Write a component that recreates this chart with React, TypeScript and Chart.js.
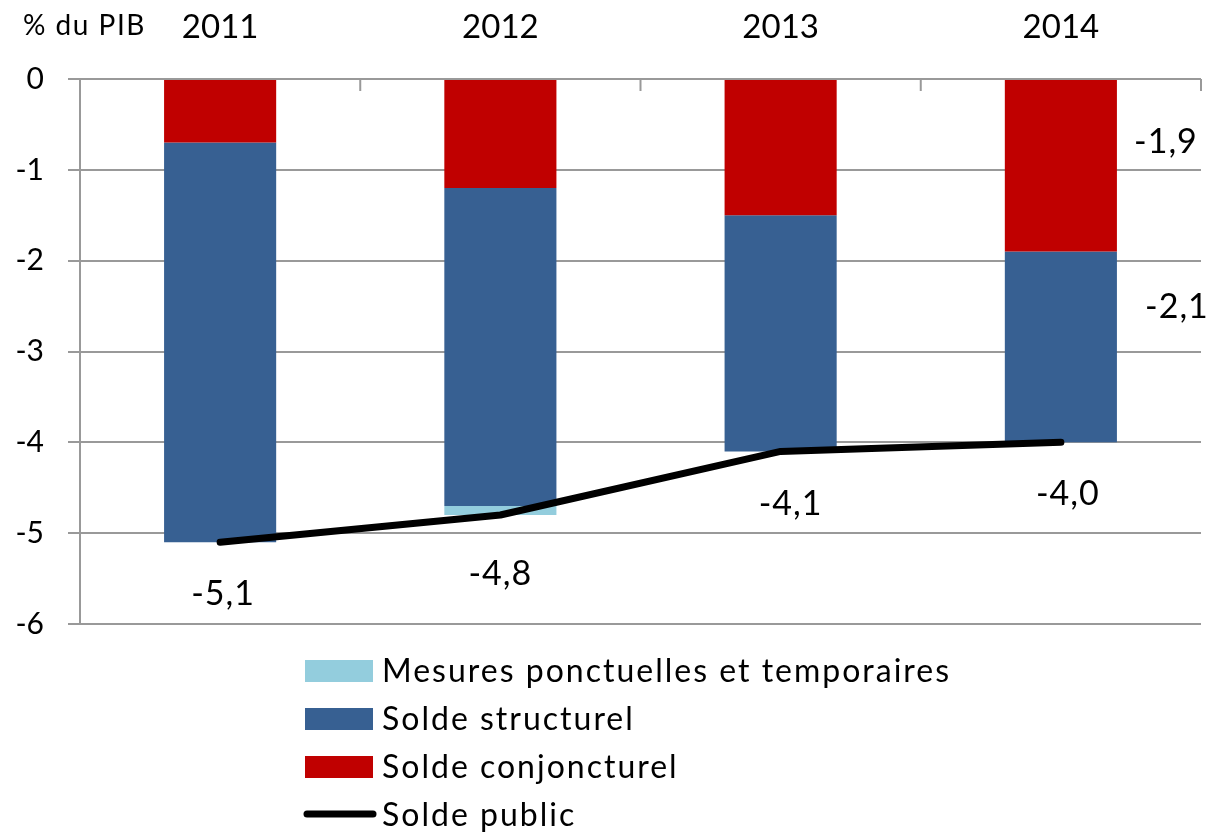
import React, { useEffect, useRef } from "react";
import { Chart, registerables } from "chart.js";

Chart.register(...registerables);

const categories = ["2011", "2012", "2013", "2014"];
const soldeConjoncturel = [-0.7, -1.2, -1.5, -1.9];
const soldeStructurel = [-4.4, -3.5, -2.6, -2.1];
const mesuresPonctuelles = [0, -0.1, 0, 0];
const soldePublic = [-5.1, -4.8, -4.1, -4.0];
const yTickLabels = ["0", "-1", "-2", "-3", "-4", "-5", "-6"];
const yUnitLabel = "% du PIB";
const seriesNames = [
  "Mesures ponctuelles et temporaires",
  "Solde structurel",
  "Solde conjoncturel",
  "Solde public",
];

const FONT = "Lato";
const C_PONCT = "#93CDDD";
const C_STRUCT = "#376092";
const C_CONJ = "#C00000";
const GRID = "#999999";

const fmt = (v: number) => v.toFixed(1).replace(".", ",");

const overlayPlugin = {
  id: "overlay",
  afterDatasetsDraw(chart: any) {
    const { ctx, chartArea, scales } = chart;
    const x = scales.x;
    const y = scales.y;
    ctx.save();
    // category boundary tick marks at the top, pointing inward
    ctx.strokeStyle = GRID;
    ctx.lineWidth = 2;
    const n = categories.length;
    for (let i = 1; i <= n; i++) {
      let px: number;
      if (i === n) px = chartArea.right;
      else px = (x.getPixelForValue(i - 1) + x.getPixelForValue(i)) / 2;
      ctx.beginPath();
      ctx.moveTo(px, chartArea.top);
      ctx.lineTo(px, chartArea.top + 12);
      ctx.stroke();
    }
    // unit label
    ctx.fillStyle = "#000";
    ctx.font = `28px ${FONT}`;
    (ctx as any).letterSpacing = "1.5px";
    ctx.textAlign = "left";
    ctx.textBaseline = "alphabetic";
    ctx.fillText(yUnitLabel, 23, 35);
    (ctx as any).letterSpacing = "0px";

    // data labels for solde public
    ctx.font = `34px ${FONT}`;
    (ctx as any).letterSpacing = "1px";
    ctx.textAlign = "center";
    const offs = [
      [3, 63],
      [0, 70],
      [10, 64],
      [7, 63],
    ];
    soldePublic.forEach((v, i) => {
      const px = x.getPixelForValue(i) + offs[i][0];
      const py = y.getPixelForValue(v) + offs[i][1];
      ctx.fillText(fmt(v), px, py);
    });
    // labels for last year components
    const last = n - 1;
    const barMeta = chart.getDatasetMeta(0);
    const bar = barMeta.data[last];
    const barRight = bar.x + bar.width / 2;
    const conj = soldeConjoncturel[last];
    const struct = soldeStructurel[last];
    ctx.fillText(fmt(conj), barRight + 49, y.getPixelForValue(conj / 2) - 12);
    ctx.fillText(
      fmt(struct),
      barRight + 60,
      y.getPixelForValue(conj + struct / 2) - 29
    );
    (ctx as any).letterSpacing = "0px";

    // legend
    const lx = chartArea.left + 225;
    const ly = chartArea.bottom + 36;
    const rowH = 48;
    const colors = [C_PONCT, C_STRUCT, C_CONJ];
    ctx.textAlign = "left";
    ctx.textBaseline = "alphabetic";
    for (let i = 0; i < 4; i++) {
      const top = ly + i * rowH;
      if (i < 3) {
        ctx.fillStyle = colors[i];
        ctx.fillRect(lx, top, 68, 22);
      } else {
        ctx.strokeStyle = "#000";
        ctx.lineWidth = 7;
        ctx.lineCap = "round";
        ctx.beginPath();
        ctx.moveTo(lx + 2, top + 10);
        ctx.lineTo(lx + 68, top + 10);
        ctx.stroke();
      }
      ctx.fillStyle = "#000";
      ctx.font = `32px ${FONT}`;
      (ctx as any).letterSpacing = "2px";
      ctx.fillText(seriesNames[i], lx + 77, top + 22);
      (ctx as any).letterSpacing = "0px";
    }
    ctx.restore();
  },
};

export default function App() {
  const ref = useRef<HTMLCanvasElement | null>(null);
  useEffect(() => {
    if (!ref.current) return;
    Chart.defaults.font.family = FONT;
    const chart = new Chart(ref.current, {
      type: "bar",
      data: {
        labels: categories,
        datasets: [
          {
            type: "bar",
            label: seriesNames[2],
            data: soldeConjoncturel,
            backgroundColor: C_CONJ,
            stack: "bars",
            order: 1,
          },
          {
            type: "bar",
            label: seriesNames[1],
            data: soldeStructurel,
            backgroundColor: C_STRUCT,
            stack: "bars",
            order: 1,
          },
          {
            type: "bar",
            label: seriesNames[0],
            data: mesuresPonctuelles,
            backgroundColor: C_PONCT,
            stack: "bars",
            order: 1,
          },
          {
            type: "line",
            label: seriesNames[3],
            data: soldePublic,
            borderColor: "#000",
            borderWidth: 7,
            borderCapStyle: "round",
            borderJoinStyle: "round",
            pointRadius: 0,
            tension: 0,
            stack: "line",
            order: 0,
          } as any,
        ],
      },
      options: {
        responsive: true,
        maintainAspectRatio: false,
        animation: false,
        layout: { padding: { right: 10, bottom: 208, top: 0, left: 0 } },
        datasets: {
          bar: { barPercentage: 0.4, categoryPercentage: 1 },
        },
        plugins: {
          legend: { display: false },
          tooltip: { enabled: false },
        },
        scales: {
          x: {
            position: "top",
            stacked: true,
            offset: true,
            grid: { display: false, drawTicks: false },
            border: { display: false },
            ticks: {
              color: "#000",
              font: { size: 33, family: FONT },
              padding: 32,
            },
            afterFit: (s: any) => {
              s.height = 79;
            },
          },
          y: {
            stacked: true,
            min: -6,
            max: 0,
            ticks: {
              stepSize: 1,
              color: "#000",
              font: { size: 30, family: FONT },
              padding: 24,
              callback: (v: any) => yTickLabels[Math.round(-Number(v))] ?? "",
            },
            grid: {
              color: GRID,
              lineWidth: 2,
              tickLength: 12,
              tickColor: GRID,
            },
            border: { display: true, color: GRID, width: 2 },
            afterFit: (s: any) => {
              s.width = 80;
            },
          },
        },
      },
      plugins: [overlayPlugin],
    });
    return () => chart.destroy();
  }, []);
  return (
    <div
      style={{
        position: "fixed",
        left: 0,
        top: 0,
        width: 1211,
        height: 832,
        background: "#fff",
      }}
    >
      <canvas ref={ref} />
    </div>
  );
}
